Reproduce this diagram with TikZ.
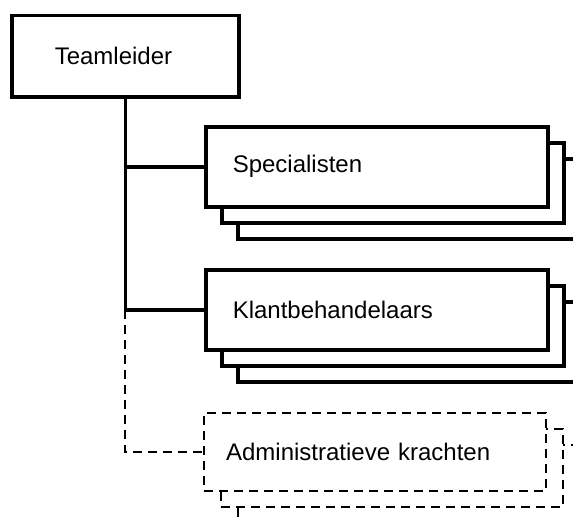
\documentclass[tikz,border=0pt]{standalone}
\usepackage{fontspec}
\setmainfont{Liberation Sans}
\usepackage{tikz}
\usetikzlibrary{calc,positioning}

\begin{document}
\begin{tikzpicture}[x=1pt,y=-1pt,line width=3.5pt,
  box/.style={draw,fill=white,anchor=north west,minimum width=342pt,minimum height=80pt,
    text width=288pt,inner xsep=27pt,font=\fontsize{24}{28}\selectfont},
  dashbox/.style={box,line width=2.2pt,dash pattern=on 9pt off 6pt,minimum height=78pt,
    text width=298pt,inner xsep=22pt}]

  \useasboundingbox (0,0) rectangle (573,519);

  \node[draw,anchor=north west,minimum width=227pt,minimum height=81pt,
    text width=141pt,inner xsep=43pt,font=\fontsize{24}{28}\selectfont] (team) at (10,14) {Teamleider};

  % specialisten
  \node[box] (spec3) at (236,157) {};
  \node[box] (spec2) at (220,141) {};
  \node[box] (spec) at (204,125) {Specialisten};

  % klantbehandelaars
  \node[box] (klant3) at (236,300) {};
  \node[box] (klant2) at (220,284) {};
  \node[box] (klant) at (204,268) {Klantbehandelaars};

  % administratie
  \node[dashbox] (admin3) at (237,444) {};
  \node[dashbox] (admin2) at (220,428) {};
  \node[dashbox] (admin) at (203,412) {Administratieve krachten};

  \draw (team.south) |- (spec.west);
  \draw (team.south) |- (klant.west);
  \draw[line width=2.2pt,dash pattern=on 9pt off 6pt] (team.south |- klant.west) |- (admin.west);

\end{tikzpicture}
\end{document}
